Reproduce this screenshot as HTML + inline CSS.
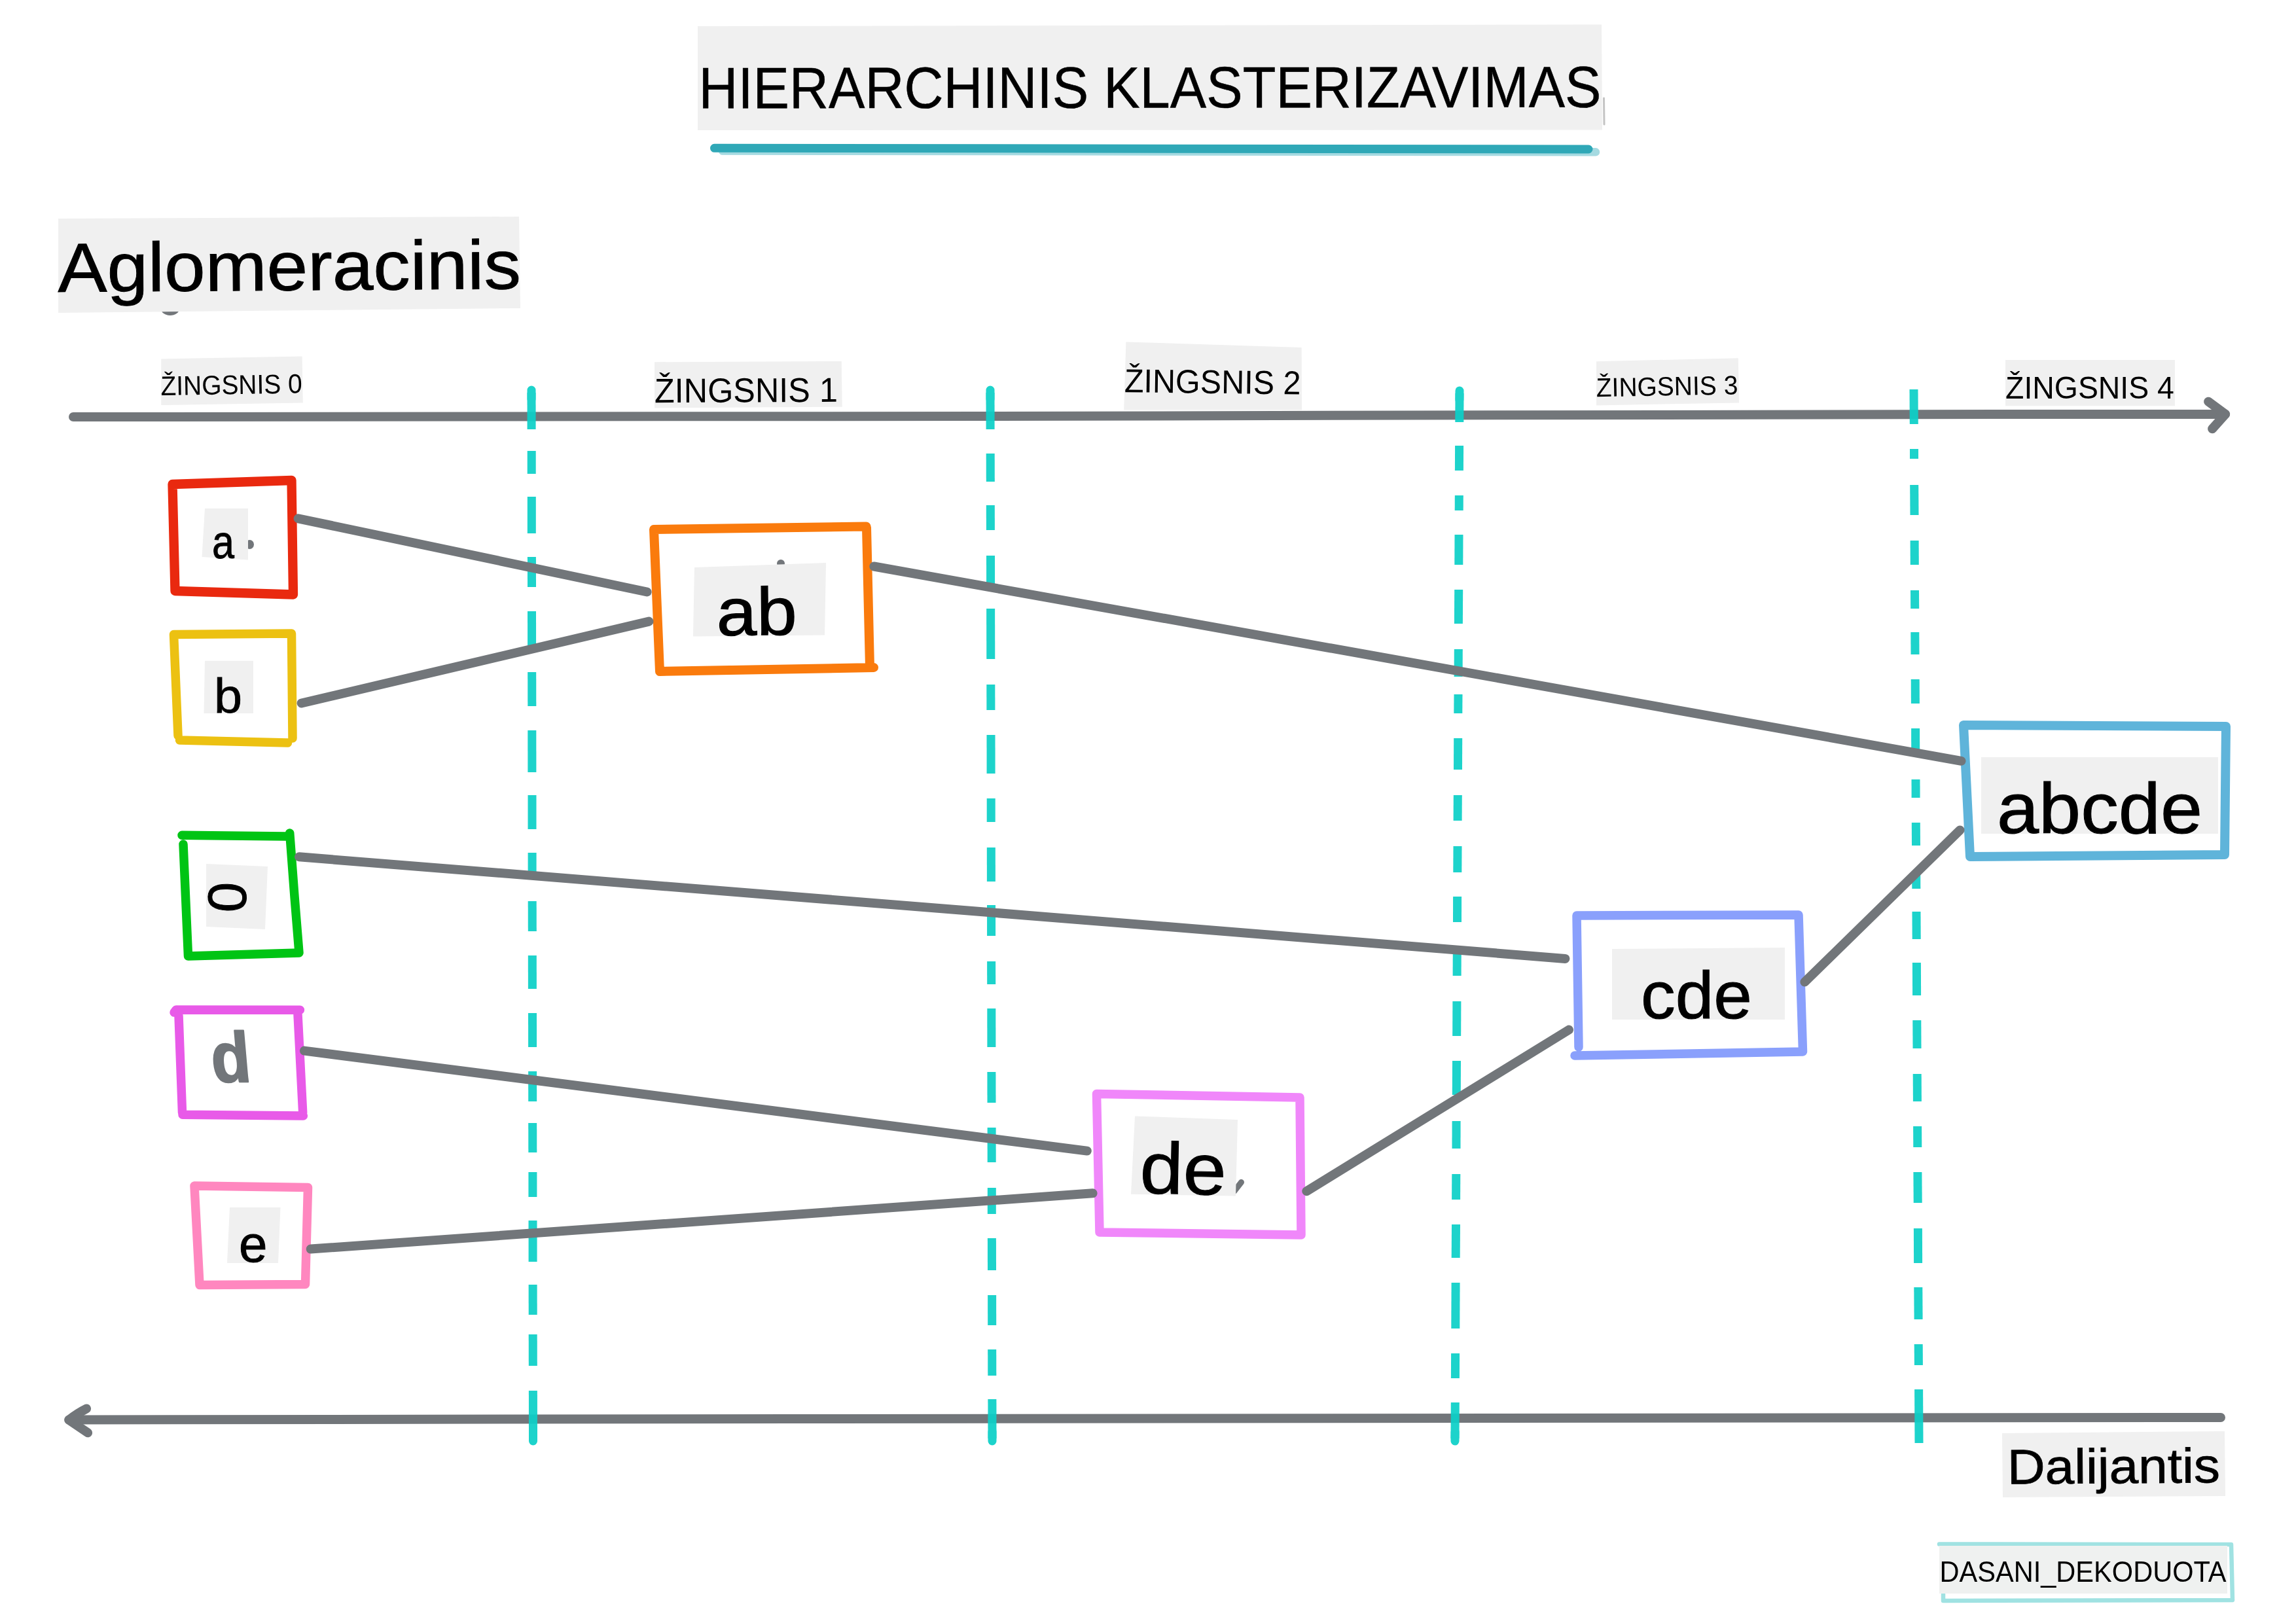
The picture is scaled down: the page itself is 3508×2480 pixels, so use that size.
<!DOCTYPE html>
<html lang="lt"><head><meta charset="utf-8"><title>Hierarchinis klasterizavimas</title>
<style>html,body{margin:0;padding:0;background:#fff}body{width:3508px;height:2480px;overflow:hidden}svg{display:block}text{font-family:"Liberation Sans", "DejaVu Sans", sans-serif;fill:#000;filter:opacity(1)}</style>
</head><body>
<svg width="3508" height="2480" viewBox="0 0 3508 2480">
<rect width="3508" height="2480" fill="#fff"/>
<g stroke="#72767a" stroke-width="14" fill="none" stroke-linecap="round" stroke-linejoin="round">
<path d="M112 637L1500 636L2300 634.3L3100 633L3400 632.9"/>
<path d="M3374.1 613.7L3400.2 632.9L3380.1 655.3"/>
<path d="M3393 2166L1208 2168L105.3 2169.5"/>
<path d="M132.1 2152.5Q118 2159.5 105.3 2169.7L134.1 2189.3"/>
</g>
<g stroke="#0cd0c8" stroke-width="13" fill="none" opacity="0.93">
<path d="M812.0 596.0L812.0 610.0" stroke-linecap="round"/>
<path d="M812.0 600.0L812.1 656.0"/>
<path d="M812.2 689.0L812.2 724.0"/>
<path d="M812.3 759.0L812.3 815.0"/>
<path d="M812.4 851.0L812.5 897.0"/>
<path d="M812.5 934.0L812.6 987.0"/>
<path d="M812.7 1027.0L812.8 1079.0"/>
<path d="M812.8 1116.0L812.9 1180.0"/>
<path d="M813.0 1215.0L813.0 1267.0"/>
<path d="M813.1 1303.0L813.1 1333.0"/>
<path d="M813.2 1377.0L813.3 1423.0"/>
<path d="M813.3 1460.0L813.4 1511.0"/>
<path d="M813.5 1548.0L813.6 1600.0"/>
<path d="M813.6 1637.0L813.7 1683.0"/>
<path d="M813.7 1716.0L813.8 1761.0"/>
<path d="M813.9 1791.0L813.9 1829.0"/>
<path d="M814.0 1865.0L814.1 1928.0"/>
<path d="M814.1 1963.0L814.2 2009.0"/>
<path d="M814.2 2039.0L814.3 2087.0"/>
<path d="M814.5 2188.0L814.5 2202.0" stroke-linecap="round"/>
<path d="M814.4 2125.0L814.5 2198.0"/>
<path d="M1513.0 596.0L1513.0 610.0" stroke-linecap="round"/>
<path d="M1513.0 600.0L1513.1 656.0"/>
<path d="M1513.2 693.0L1513.3 736.0"/>
<path d="M1513.3 772.0L1513.4 810.0"/>
<path d="M1513.5 849.0L1513.6 893.0"/>
<path d="M1513.6 930.0L1513.8 1007.0"/>
<path d="M1513.8 1046.0L1513.9 1085.0"/>
<path d="M1514.0 1123.0L1514.1 1182.0"/>
<path d="M1514.2 1220.0L1514.2 1256.0"/>
<path d="M1514.3 1295.0L1514.4 1347.0"/>
<path d="M1514.5 1383.0L1514.6 1430.0"/>
<path d="M1514.6 1469.0L1514.7 1504.0"/>
<path d="M1514.8 1541.0L1514.9 1600.0"/>
<path d="M1514.9 1638.0L1515.0 1685.0"/>
<path d="M1515.1 1723.0L1515.2 1776.0"/>
<path d="M1515.3 1815.0L1515.3 1855.0"/>
<path d="M1515.4 1892.0L1515.5 1941.0"/>
<path d="M1515.6 1979.0L1515.7 2025.0"/>
<path d="M1515.7 2062.0L1515.8 2102.0"/>
<path d="M1516.0 2188.0L1516.0 2202.0" stroke-linecap="round"/>
<path d="M1515.9 2138.0L1516.0 2198.0"/>
<path d="M2230.0 597.0L2229.9 611.0" stroke-linecap="round"/>
<path d="M2230.0 601.0L2229.8 645.0"/>
<path d="M2229.6 681.0L2229.4 719.0"/>
<path d="M2229.3 757.0L2229.2 780.0"/>
<path d="M2229.0 817.0L2228.8 863.0"/>
<path d="M2228.7 901.0L2228.4 953.0"/>
<path d="M2228.3 992.0L2228.1 1034.0"/>
<path d="M2228.0 1061.0L2227.8 1090.0"/>
<path d="M2227.7 1128.0L2227.5 1176.0"/>
<path d="M2227.3 1215.0L2227.1 1254.0"/>
<path d="M2227.0 1293.0L2226.8 1333.0"/>
<path d="M2226.6 1370.0L2226.5 1409.0"/>
<path d="M2226.3 1448.0L2226.1 1491.0"/>
<path d="M2225.9 1530.0L2225.7 1583.0"/>
<path d="M2225.5 1621.0L2225.3 1673.0"/>
<path d="M2225.1 1713.0L2225.0 1755.0"/>
<path d="M2224.8 1794.0L2224.6 1833.0"/>
<path d="M2224.5 1871.0L2224.2 1922.0"/>
<path d="M2224.1 1960.0L2223.8 2030.0"/>
<path d="M2223.6 2068.0L2223.4 2106.0"/>
<path d="M2223.1 2188.0L2223.0 2202.0" stroke-linecap="round"/>
<path d="M2223.3 2143.0L2223.0 2198.0"/>
<path d="M2924.0 595.0L2924.3 648.0"/>
<path d="M2924.5 686.0L2924.5 701.0"/>
<path d="M2924.7 741.0L2925.0 787.0"/>
<path d="M2925.1 826.0L2925.3 863.0"/>
<path d="M2925.5 902.0L2925.7 930.0"/>
<path d="M2925.8 966.0L2926.0 1000.0"/>
<path d="M2926.2 1038.0L2926.4 1075.0"/>
<path d="M2926.6 1113.0L2926.7 1146.0"/>
<path d="M2927.0 1191.0L2927.1 1219.0"/>
<path d="M2927.3 1257.0L2927.5 1292.0"/>
<path d="M2927.7 1333.0L2927.8 1358.0"/>
<path d="M2928.0 1393.0L2928.2 1435.0"/>
<path d="M2928.4 1471.0L2928.6 1521.0"/>
<path d="M2928.8 1559.0L2929.0 1602.0"/>
<path d="M2929.2 1641.0L2929.4 1683.0"/>
<path d="M2929.6 1721.0L2929.8 1753.0"/>
<path d="M2929.9 1791.0L2930.2 1838.0"/>
<path d="M2930.4 1877.0L2930.6 1930.0"/>
<path d="M2930.8 1967.0L2931.1 2016.0"/>
<path d="M2931.2 2054.0L2931.4 2086.0"/>
<path d="M2931.6 2123.0L2932.0 2205.0"/>
</g>
<polygon points="1066,40 2447,37.5 2448,198.5 1066,199" fill="#f0f0f0"/>
<path d="M2438 232.3L1104 230.5" stroke="#a5dae1" stroke-width="12.5" stroke-linecap="round" fill="none"/>
<path d="M1091.5 226.3L2427 228" stroke="#2fa8b7" stroke-width="13" stroke-linecap="round" fill="none"/>
<path d="M2450.5 150L2451 190" stroke="#c4c4c4" stroke-width="3" stroke-linecap="round" fill="none"/>
<text transform="translate(1067.5 165.3) rotate(-0.07)" font-size="89" textLength="1379" lengthAdjust="spacingAndGlyphs" style="stroke:#000;stroke-width:0.5">HIERARCHINIS KLASTERIZAVIMAS</text>
<ellipse cx="260" cy="472" rx="14" ry="10" fill="#72767a"/>
<polygon points="89,334 793,331 795,471 89,478" fill="#f0f0f0"/>
<text transform="translate(88.5 446) rotate(-0.4)" font-size="106" textLength="707.5" lengthAdjust="spacingAndGlyphs" style="stroke:#000;stroke-width:0.9">Aglomeracinis</text>
<polygon points="246.2,548.4 461.6,544.4 462.8,615.5 246.2,619.1" fill="#f0f0f0"/>
<text transform="translate(245.8 604) rotate(-0.93)" font-size="41.3" textLength="216" lengthAdjust="spacingAndGlyphs">ŽINGSNIS 0</text>
<polygon points="1000,553.2 1285.7,551.9 1286.7,621.7 1000,623.4" fill="#f0f0f0"/>
<text transform="translate(1000 615.2) rotate(-0.3)" font-size="52.5" textLength="280" lengthAdjust="spacingAndGlyphs">ŽINGSNIS 1</text>
<polygon points="1720.4,522.4 1988.6,530.9 1989,626.5 1717.2,626.5" fill="#f0f0f0"/>
<text transform="translate(1717.7 599.2) rotate(0.72)" font-size="50.7" textLength="269.6" lengthAdjust="spacingAndGlyphs">ŽINGSNIS 2</text>
<polygon points="2439,552.2 2655.8,547.3 2657,615.5 2439,619.4" fill="#f0f0f0"/>
<text transform="translate(2439 606.3) rotate(-1.05)" font-size="40.5" textLength="216.6" lengthAdjust="spacingAndGlyphs">ŽINGSNIS 3</text>
<polygon points="3064,550 3323,550 3323,620.2 3064,620.2" fill="#f0f0f0"/>
<text transform="translate(3064.1 609.3) rotate(0)" font-size="48" textLength="257.8" lengthAdjust="spacingAndGlyphs">ŽINGSNIS 4</text>
<path d="M263.5 740L445.5 734L448 908.5L267.5 903Z" stroke="#e9290f" stroke-width="14.3" fill="none" stroke-linecap="round" stroke-linejoin="round"/>
<ellipse cx="381.5" cy="832" rx="6.5" ry="7" fill="#72767a"/>
<polygon points="313,777 379,777 379,855.5 308.5,851" fill="#f0f0f0"/>
<text x="324" y="853" font-size="73" textLength="34" lengthAdjust="spacingAndGlyphs" style="stroke:#000;stroke-width:0.9">a</text>
<path d="M265.5 969.5L445.5 968L447 1128M272 1124L265.5 969.5M274.5 1131L439.5 1135" stroke="#ecc112" stroke-width="13.5" fill="none" stroke-linecap="round" stroke-linejoin="round"/>
<polygon points="313,1009.8 387,1009.8 387,1090 311.5,1090" fill="#f0f0f0"/>
<text x="327" y="1088.5" font-size="74.5" textLength="43" lengthAdjust="spacingAndGlyphs" style="stroke:#000;stroke-width:0.8">b</text>
<path d="M278 1276.3L438 1278M442.7 1273L450 1370L457 1456L287.5 1461L280 1290" stroke="#00c414" stroke-width="13.5" fill="none" stroke-linecap="round" stroke-linejoin="round"/>
<polygon points="315,1320 409,1324 405,1420 315,1416" fill="#f0f0f0"/>
<text transform="translate(319.5 1347) rotate(92)" font-size="83" style="stroke:#000;stroke-width:1">0</text>
<path d="M266 1547L269 1543L458.4 1543.2M455 1550L462.7 1700M463.4 1705L279 1703.2M278.5 1700L273 1552" stroke="#e85ae8" stroke-width="13.5" fill="none" stroke-linecap="round" stroke-linejoin="round"/>
<text transform="translate(325.5 1653) skewX(5)" font-size="108" font-weight="bold" textLength="60" lengthAdjust="spacingAndGlyphs" style="fill:#72767a;stroke:#72767a;stroke-width:2.5;stroke-linejoin:round">d</text>
<path d="M297 1812L470.5 1814.5L466.5 1962.5L305 1963.5Z" stroke="#ff87bf" stroke-width="13.5" fill="none" stroke-linecap="round" stroke-linejoin="round"/>
<polygon points="351,1845 428.5,1845 425,1930 347,1930" fill="#f0f0f0"/>
<text x="365" y="1927.7" font-size="78" style="stroke:#000;stroke-width:1">e</text>
<path d="M1008 1026L999 809L1323.5 804.5M1324 806L1329 1019M1335 1020L1008 1026" stroke="#fa7b0d" stroke-width="14" fill="none" stroke-linecap="round" stroke-linejoin="round"/>
<circle cx="1193" cy="861" r="6" fill="#72767a"/>
<polygon points="1061,867 1262,860 1260,970.5 1059,972.5" fill="#f0f0f0"/>
<text transform="translate(1095 971) rotate(-0.6)" font-size="103" textLength="123" lengthAdjust="spacingAndGlyphs" style="stroke:#000;stroke-width:1.2">ab</text>
<path d="M1675.5 1671.5L1986 1677L1988 1887L1680 1883Z" stroke="#f087fa" stroke-width="13.5" fill="none" stroke-linecap="round" stroke-linejoin="round"/>
<path d="M1886 1820L1896.5 1806.5" stroke="#72767a" stroke-width="9" stroke-linecap="round" fill="none"/>
<polygon points="1734,1705.5 1891,1711 1888,1827.5 1728,1824.8" fill="#f0f0f0"/>
<text transform="translate(1741 1823) rotate(1.2)" font-size="111" textLength="132" lengthAdjust="spacingAndGlyphs" style="stroke:#000;stroke-width:1">de</text>
<path d="M2409 1399L2748 1398L2754.5 1607L2406 1613M2409 1399L2412 1600" stroke="#8aa0fc" stroke-width="13.5" fill="none" stroke-linecap="round" stroke-linejoin="round"/>
<polygon points="2463,1450 2727,1448 2727,1558 2463,1558" fill="#f0f0f0"/>
<text x="2507" y="1556" font-size="102" textLength="170" lengthAdjust="spacingAndGlyphs" style="stroke:#000;stroke-width:1">cde</text>
<path d="M3000 1108L3401 1110L3399 1306L3010 1309Z" stroke="#5fb4da" stroke-width="14" fill="none" stroke-linecap="round" stroke-linejoin="round"/>
<polygon points="3027,1157 3389,1157 3389,1274 3027,1274" fill="#f0f0f0"/>
<text x="3051" y="1273" font-size="109" textLength="314" lengthAdjust="spacingAndGlyphs" style="stroke:#000;stroke-width:1">abcde</text>
<g stroke="#72767a" stroke-width="14" fill="none" stroke-linecap="round" stroke-linejoin="round">
<path d="M455.6 792.3L988.6 904.5"/>
<path d="M460.6 1074.5L991.5 949.6"/>
<path d="M1335.3 865.5L2996.5 1162.8"/>
<path d="M457 1309.3L2391.4 1464.9"/>
<path d="M465 1605.6L1660.8 1758.6"/>
<path d="M474.7 1908.6L1669.6 1823.3"/>
<path d="M1996.3 1820.2L2397 1573.6"/>
<path d="M2757.4 1500.5L2994.5 1268.5"/>
</g>
<polygon points="3059,2190 3399,2187 3400,2286 3060,2288" fill="#f0f0f0"/>
<text transform="translate(3067 2267.6) rotate(-0.42)" font-size="75" textLength="325" lengthAdjust="spacingAndGlyphs" style="stroke:#000;stroke-width:0.8">Dalijantis</text>
<path d="M2963 2359.5L3409 2360L3411 2445L2969 2446L2969 2436" stroke="#a0e2e2" stroke-width="6.5" fill="none" stroke-linecap="round" stroke-linejoin="round"/>
<polygon points="2963,2362 3403,2362 3403,2435 2963,2435" fill="#eff1f0"/>
<text x="2963.5" y="2417" font-size="44" textLength="438" lengthAdjust="spacingAndGlyphs">DASANI_DEKODUOTA</text>
</svg>
</body></html>
